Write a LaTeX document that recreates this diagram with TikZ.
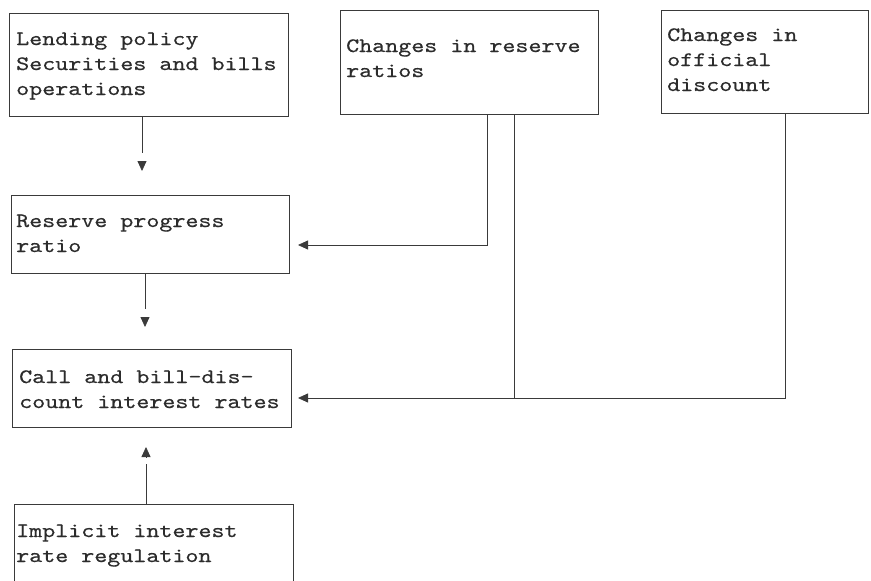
\documentclass[tikz,border=0pt]{standalone}
\usepackage{fontspec}
\newfontfamily\tw[FakeStretch=1.21,FakeBold=0.5]{lmmono10-regular.otf}
\usetikzlibrary{arrows.meta,calc}
\definecolor{ink}{HTML}{3A3A3A}
\definecolor{textink}{HTML}{2C2C2C}
\begin{document}
\begin{tikzpicture}[x=1pt,y=-1pt,
  box/.style={draw=ink, line width=0.8pt, anchor=north west, inner sep=0pt},
  txt/.style={anchor=base west, inner sep=0pt, text=textink, font=\tw\fontsize{20.5}{25}\selectfont},
  conn/.style={draw=ink, line width=0.8pt},
  tipped/.style={conn, -{Triangle[length=10pt,width=9pt]}},
  headonly/.style={conn, -{Triangle[length=10pt,width=9pt]}}]
\useasboundingbox (0,0) rectangle (871,581);
% boxes
\node[box, minimum width=279pt, minimum height=103pt] (b1) at (9,13) {};
\node[box, minimum width=258pt, minimum height=104pt] (b2) at (340,10) {};
\node[box, minimum width=207pt, minimum height=103pt] (b3) at (661,10) {};
\node[box, minimum width=278pt, minimum height=78pt] (b4) at (11,195) {};
\node[box, minimum width=279pt, minimum height=78pt] (b5) at (12,349) {};
\node[box, minimum width=279pt, minimum height=100pt] (b6) at (14,504) {};
% texts
\node[txt] (t1) at ($(b1.north west)+(7,32)$) {\parbox[t]{270pt}{Lending policy\\Securities and bills\\operations}};
\node[txt] (t2) at ($(b2.north west)+(6,42)$) {\parbox[t]{250pt}{Changes in reserve\\ratios}};
\node[txt] (t3) at ($(b3.north west)+(6,31)$) {\parbox[t]{200pt}{Changes in\\official\\discount}};
\node[txt] (t4) at ($(b4.north west)+(5,32)$) {\parbox[t]{270pt}{Reserve progress\\ratio}};
\node[txt] (t5) at ($(b5.north west)+(7,34)$) {\parbox[t]{270pt}{Call and bill-dis-\\count interest rates}};
\node[txt] (t6) at ($(b6.north west)+(2,33)$) {\parbox[t]{270pt}{Implicit interest\\rate regulation}};
% connector coordinates
\coordinate (a1) at (142,171);
\coordinate (a2) at (298,245);
\coordinate (a3) at (298,398);
\coordinate (a4) at (145,327);
\coordinate (a5) at (146,447);
\coordinate (c487) at (487,0);
\coordinate (c514) at (514,0);
\coordinate (c785) at (785,0);
% lending -> reserve progress
\draw[conn] (b1.south -| a1) -- ++(0,36);
\draw[headonly] ($(a1)+(0,-10)$) -- (a1);
% reserve ratios -> reserve progress
\draw[tipped] (b2.south -| c487) |- (a2);
% reserve ratios -> call
\draw[conn] (b2.south -| c514) -- (c514 |- a3);
% official discount -> call
\draw[tipped] (b3.south -| c785) |- (a3);
% reserve progress -> call
\draw[conn] (b4.south -| a4) -- ++(0,35);
\draw[headonly] ($(a4)+(0,-10)$) -- (a4);
% implicit -> call
\draw[conn] (b6.north -| a5) -- ++(0,-40);
\draw[headonly] ($(a5)+(0,10)$) -- (a5);
\end{tikzpicture}
\end{document}
